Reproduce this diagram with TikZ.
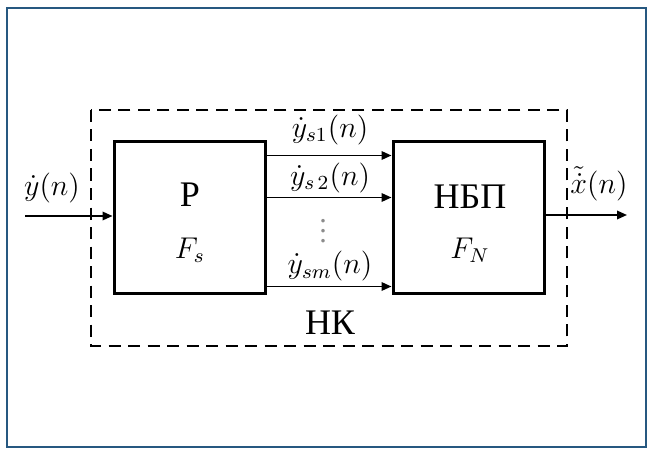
\documentclass[tikz,border=0pt]{standalone}
\usepackage{fontspec}
\setmainfont{Liberation Serif}
\usetikzlibrary{arrows.meta,positioning}
\definecolor{framecol}{RGB}{38,88,128}

\begin{document}
\begin{tikzpicture}[x=0.4pt,y=-0.4pt,every node/.style={font=\large,inner sep=1pt},
  block/.style={draw,line width=1.2pt,minimum width=60.4pt,minimum height=60.4pt,inner sep=0pt},
  sig/.style={line width=0.7pt,-{Triangle[length=4pt,width=3.4pt]}}]
\useasboundingbox (0,0) rectangle (658,452);
\draw[framecol,line width=0.9pt] (7,8) rectangle (646,447);
% outer dashed frame
\draw[line width=0.7pt,dash pattern=on 4.8pt off 3pt] (91,110) rectangle (567,346);
\node (nk) at (330,323) {\Large НК};
% blocks
\node[block] (P) at (189.5,217.5) {};
\node[block] (N) at (468.5,217.5) {};
\node (Pt) at (190,195) {\Large Р};
\node (Ps) at (190,250) {$F_s$};
\node (Nt) at (470,197) {\Large НБП};
\node (Ns) at (470,250) {$F_N$};
% signals
\coordinate (in) at (25,216);
\coordinate (out) at (627,215);
\draw[sig] (in) -- (in -| P.west);
\node (yin) at (52,188) {$\dot{y}(n)$};
\draw[sig] ([yshift=-6pt]P.north east) -- ([yshift=-6pt]N.north west);
\draw[sig] ([yshift=-22.8pt]P.north east) -- ([yshift=-22.8pt]N.north west);
\draw[sig] ([yshift=3.2pt]P.south east) -- ([yshift=3.2pt]N.south west);
\node (y1) at (330,130) {$\dot{y}_{s1}(n)$};
\node (y2) at (330,178) {$\dot{y}_{s\,2}(n)$};
\node[text=black!45] (dots) at (323,224) {$\vdots$};
\node (ym) at (330,266) {$\dot{y}_{sm}(n)$};
\draw[sig] (N.east |- out) -- (out);
\node (xo) at (599,184) {$\tilde{\dot{x}}(n)$};
\end{tikzpicture}
\end{document}
